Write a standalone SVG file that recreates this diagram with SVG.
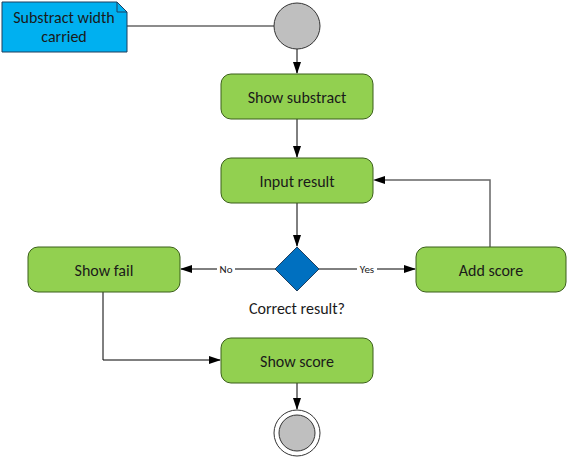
<svg xmlns="http://www.w3.org/2000/svg" width="568" height="460" viewBox="0 0 568 460">
<style>
.act{fill:#92D050;stroke:#3B5F1A;stroke-width:1}
.t{font-family:Carlito,"Liberation Sans",sans-serif;font-size:16px;fill:#1a1a1a;text-anchor:middle;dominant-baseline:central}
.lbl{font-family:Carlito,"Liberation Sans",sans-serif;font-size:11px;fill:#1a1a1a;text-anchor:middle;dominant-baseline:central}
.c{fill:none;stroke:#000;stroke-width:1}
.g{fill:none;stroke:#666;stroke-width:1.5}
</style>
<defs>
<marker id="ar" markerWidth="12" markerHeight="8" refX="11" refY="4" orient="auto" markerUnits="userSpaceOnUse">
<path d="M0,0 L12,4 L0,8 Z" fill="#000"/>
</marker>
</defs>
<rect width="568" height="460" fill="#fff"/>
<g id="connectors">
<line class="g" x1="127" y1="26" x2="274" y2="26"/>
<line class="c" x1="297" y1="49" x2="297" y2="73" marker-end="url(#ar)"/>
<line class="c" x1="297" y1="119" x2="297" y2="157" marker-end="url(#ar)"/>
<line class="c" x1="297" y1="203" x2="297" y2="246" marker-end="url(#ar)"/>
<line class="c" x1="275" y1="269" x2="181" y2="269" marker-end="url(#ar)"/>
<line class="c" x1="319" y1="269" x2="415" y2="269" marker-end="url(#ar)"/>
<polyline class="g" points="490,247 490,180 385,180"/>
<path d="M373,180 L385,176 L385,184 Z" fill="#000"/>
<polyline class="c" points="103,292 103,360 220,360" marker-end="url(#ar)"/>
<line class="c" x1="297" y1="383" x2="297" y2="409" marker-end="url(#ar)"/>
<rect x="217" y="263" width="18" height="12" fill="#fff"/>
<text class="lbl" x="226" y="269">No</text>
<rect x="357" y="263" width="20" height="12" fill="#fff"/>
<text class="lbl" x="367" y="269">Yes</text>
</g>
<g id="note">
<path d="M2,2 H117 L127,12 V52 H2 Z" fill="#00B0F0" stroke="#1F3F5F" stroke-width="1"/>
<path d="M117,2 V12 H127" fill="none" stroke="#1F3F5F" stroke-width="1"/>
<text class="t" x="64" y="17">Substract width</text>
<text class="t" x="64" y="36">carried</text>
</g>
<g id="start">
<circle cx="297" cy="26" r="23" fill="#BFBFBF" stroke="#333" stroke-width="1"/>
</g>
<g id="show-substract">
<rect class="act" x="221" y="74" width="152" height="45" rx="10"/>
<text class="t" x="297" y="97">Show substract</text>
</g>
<g id="input-result">
<rect class="act" x="221" y="158" width="152" height="45" rx="10"/>
<text class="t" x="297" y="181">Input result</text>
</g>
<g id="decision">
<path d="M297,247 L319,269 L297,291 L275,269 Z" fill="#0070C0" stroke="#1F3F5F" stroke-width="1"/>
<text class="t" x="297" y="308">Correct result?</text>
</g>
<g id="show-fail">
<rect class="act" x="28" y="247" width="152" height="45" rx="10"/>
<text class="t" x="104" y="270">Show fail</text>
</g>
<g id="add-score">
<rect class="act" x="416" y="247" width="150" height="45" rx="10"/>
<text class="t" x="491" y="270">Add score</text>
</g>
<g id="show-score">
<rect class="act" x="221" y="338" width="152" height="45" rx="10"/>
<text class="t" x="297" y="361">Show score</text>
</g>
<g id="end">
<circle cx="297" cy="433" r="23" fill="#fff" stroke="#333" stroke-width="1"/>
<circle cx="297" cy="433" r="18" fill="#BFBFBF" stroke="#333" stroke-width="1"/>
</g>
</svg>
